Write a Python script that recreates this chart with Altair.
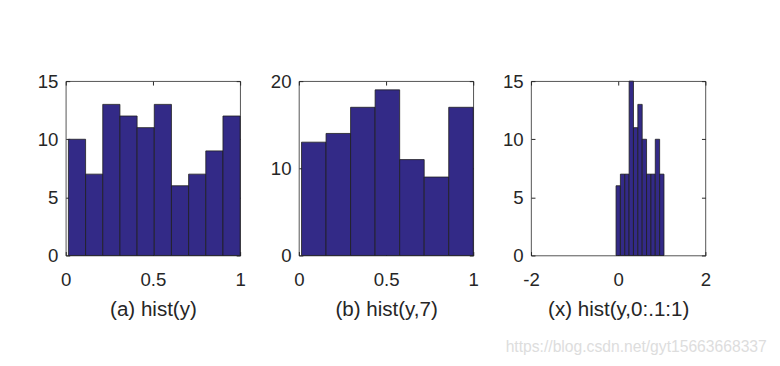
import altair as alt
import pandas as pd
import numpy as np

# Panel (a): hist(y), 10 bins spanning min(y)..max(y)
counts_a = [10, 7, 13, 12, 11, 13, 6, 7, 9, 12]
# Panel (b): hist(y,7)
counts_b = [13, 14, 17, 19, 11, 9, 17]
# Panel (c): hist(y,0:.1:1) bin centers
centers_c = [0.0, 0.1, 0.2, 0.3, 0.4, 0.5, 0.6, 0.7, 0.8, 0.9, 1.0]
counts_c = [6, 7, 7, 15, 11, 13, 10, 7, 7, 10, 7]
y_min, y_max = 0.015, 1.0

titles = ["(a) hist(y)", "(b) hist(y,7)", "(x) hist(y,0:.1:1)"]

def edges_df(counts, lo, hi):
    e = np.linspace(lo, hi, len(counts) + 1)
    return pd.DataFrame({"x0": e[:-1], "x1": e[1:], "n": counts})

df_a = edges_df(counts_a, y_min, y_max)
df_b = edges_df(counts_b, y_min, y_max)
df_c = pd.DataFrame({"x0": [c - 0.05 for c in centers_c],
                     "x1": [c + 0.05 for c in centers_c], "n": counts_c})

BAR = "#332A87"
EDGE = "#1e1e1e"
TXT = "#262626"
FONT = "Liberation Sans"
TK = 4
LBL = "'' + datum.value"

def panel(df, title, xdom, xticks, ydom, yticks):
    xs = alt.Scale(domain=xdom, nice=False, zero=False)
    ys = alt.Scale(domain=ydom, nice=False)
    main = alt.Chart(df).mark_rect(color=BAR, stroke=EDGE, strokeWidth=0.8).encode(
        x=alt.X("x0:Q", scale=xs,
                axis=alt.Axis(values=xticks, labelExpr=LBL, title=title, grid=False,
                              ticks=True, tickSize=TK, offset=-TK, tickColor=TXT,
                              domain=False, labelFontSize=19,
                              titleFontSize=21, titleFontWeight="normal",
                              labelColor=TXT, titleColor=TXT, labelPadding=16,
                              titlePadding=9, labelFont=FONT,
                              titleFont=FONT, labelFlush=False)),
        x2="x1:Q",
        y=alt.Y("n:Q", scale=ys,
                axis=alt.Axis(values=yticks, labelExpr=LBL, title=None, grid=False,
                              ticks=True, tickSize=TK, offset=-TK, tickColor=TXT,
                              domain=False, labelFontSize=19, labelColor=TXT,
                              labelPadding=8, labelFont=FONT,
                              labelFlush=False)),
    )
    ghost = alt.Chart(df).mark_rect(opacity=0).encode(
        x=alt.X("x0:Q", scale=xs,
                axis=alt.Axis(values=xticks, orient="top", labels=False, title=None,
                              grid=False, ticks=True, tickSize=TK, offset=-TK,
                              tickColor=TXT, domain=False)),
        x2="x1:Q",
        y=alt.Y("n:Q", scale=ys,
                axis=alt.Axis(values=yticks, orient="right", labels=False, title=None,
                              grid=False, ticks=True, tickSize=TK, offset=-TK,
                              tickColor=TXT, domain=False)),
    )
    return alt.layer(main, ghost).resolve_axis(x="independent", y="independent") \
        .properties(width=178, height=178)

a = panel(df_a, titles[0], [0, 1], [0, 0.5, 1], [0, 15], [0, 5, 10, 15])
b = panel(df_b, titles[1], [0, 1], [0, 0.5, 1], [0, 20], [0, 10, 20])
c = panel(df_c, titles[2], [-2, 2], [-2, 0, 2], [0, 15], [0, 5, 10, 15])

chart = alt.hconcat(alt.hconcat(a, b, spacing=24), c, spacing=23).properties(
    padding={"left": 29, "top": 61, "right": 5, "bottom": 0},
    title=alt.TitleParams("https://blog.csdn.net/gyt15663668337", orient="bottom",
                          anchor="end", color="#dddddd", fontSize=16,
                          fontWeight="normal", font=FONT, offset=20, dx=57),
).configure_view(stroke="#262626", strokeWidth=0.8)

chart.save("out.html", embed_options={"renderer": "svg", "actions": False})
